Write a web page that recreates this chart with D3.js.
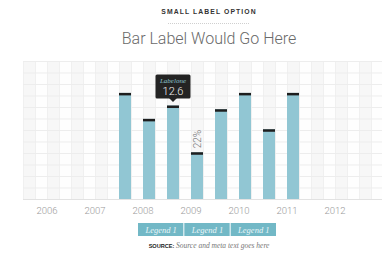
<!DOCTYPE html>
<html>
<head>
<meta charset="utf-8">
<script src="https://cdn.jsdelivr.net/npm/d3@7"></script>
<style>
  html, body { margin: 0; padding: 0; background: #fff; }
  svg { display: block; }
</style>
</head>
<body>
<svg id="chart" width="382" height="256"></svg>
<script>
var years = ['2006', '2007', '2008', '2009', '2010', '2011', '2012'];
var barYears = ['2008', '2008', '2009', '2009', '2010', '2010', '2011', '2011'];
var barHalves = [0, 1, 0, 1, 0, 1, 0, 1];
var barValues = [14.3, 10.8, 12.6, 6.3, 12.1, 14.3, 9.4, 14.3];
var legendLabels = ['Legend 1', 'Legend 1', 'Legend 1'];
var yMax = 18.6;
var gridRows = 12;

var svg = d3.select('#chart');
var W = 382;
var plotLeft = 23, plotTop = 61, plotBottom = 199;
var colW = 12;

var x = d3.scaleBand().domain(years).range([plotLeft, plotLeft + colW * 4 * years.length]);
var y = d3.scaleLinear().domain([0, yMax]).range([plotBottom, plotTop]);

// grid background, stripes and lines
var cols = d3.range(0, Math.ceil((W - plotLeft) / colW) + 1);
var grid = svg.append('g');
grid.selectAll('rect.stripe').data(cols).enter().append('rect')
  .attr('x', function (c) { return plotLeft + c * colW; })
  .attr('y', plotTop)
  .attr('width', colW)
  .attr('height', plotBottom - plotTop)
  .style('fill', function (c) { return c % 2 === 0 ? '#f7f7f7' : '#fefefe'; });

grid.selectAll('line.v').data(cols).enter().append('line')
  .attr('x1', function (c) { return plotLeft + c * colW + 0.5; })
  .attr('x2', function (c) { return plotLeft + c * colW + 0.5; })
  .attr('y1', plotTop).attr('y2', plotBottom)
  .style('stroke', '#f0f0f0');

grid.selectAll('line.h').data(d3.range(0, gridRows + 1)).enter().append('line')
  .attr('x1', plotLeft).attr('x2', W)
  .attr('y1', function (r) { return y(r * yMax / gridRows) + 0.5; })
  .attr('y2', function (r) { return y(r * yMax / gridRows) + 0.5; })
  .style('stroke', function (r) { return r === 0 ? '#e2e2e2' : '#ededed'; });

// bars
var bw = x.bandwidth() / 4;
var barX = function (d, i) { return x(barYears[i]) + barHalves[i] * x.bandwidth() / 2; };

svg.append('g').selectAll('rect').data(barValues).enter().append('rect')
  .attr('x', barX)
  .attr('y', function (d) { return y(d); })
  .attr('width', bw)
  .attr('height', function (d) { return plotBottom - y(d); })
  .style('fill', '#91c6d3');

svg.append('g').selectAll('rect').data(barValues).enter().append('rect')
  .attr('x', barX)
  .attr('y', function (d) { return y(d); })
  .attr('width', bw)
  .attr('height', 2.5)
  .style('fill', '#1e1e1e');

// year axis
var xAxis = svg.append('g').attr('transform', 'translate(0,' + (plotBottom + 15) + ')')
  .call(d3.axisBottom(x).tickSize(0).tickPadding(0));
xAxis.select('.domain').remove();
xAxis.selectAll('text')
  .attr('dy', 0)
  .style('font-family', 'Roboto, "Liberation Sans", sans-serif')
  .style('font-weight', 300)
  .style('font-size', '9.5px')
  .style('fill', '#9a9a9a');

// rotated percentage label on bar 4
var i4 = 3;
svg.append('text')
  .attr('transform', 'translate(' + (barX(null, i4) + bw / 2 + 3.5) + ',' + (y(barValues[i4]) - 4) + ') rotate(-90)')
  .style('font-family', 'Roboto, "Liberation Sans", sans-serif')
  .style('font-weight', 300)
  .style('font-size', '10px')
  .style('fill', '#707070')
  .text('22%');

// tooltip on bar 3
var i3 = 2;
var tx = barX(null, i3) + bw / 2;
var ty = y(barValues[i3]);
var tip = svg.append('g').attr('transform', 'translate(' + tx + ',' + ty + ')');
tip.append('rect')
  .attr('x', -17.5).attr('y', -31).attr('width', 35).attr('height', 24)
  .attr('rx', 1.5)
  .style('fill', '#232323');
tip.append('path')
  .attr('d', 'M-4,-7.5L0,-3.5L4,-7.5Z')
  .style('fill', '#232323');
tip.append('text')
  .attr('x', 0).attr('y', -22.5)
  .attr('text-anchor', 'middle')
  .style('font-family', '"Liberation Serif", serif')
  .style('font-style', 'italic')
  .style('font-size', '7px')
  .style('fill', '#8cc4d1')
  .text('Labelone');
tip.append('text')
  .attr('x', 0).attr('y', -10.5)
  .attr('text-anchor', 'middle')
  .style('font-family', 'Roboto, "Liberation Sans", sans-serif')
  .style('font-weight', 300)
  .style('font-size', '11px')
  .style('fill', '#f2f2f2')
  .text(barValues[i3]);

// titles
svg.append('text')
  .attr('x', 209).attr('y', 13.5)
  .attr('text-anchor', 'middle')
  .style('font-family', '"Liberation Sans", Arial, sans-serif')
  .style('font-weight', 700)
  .style('font-size', '6.8px')
  .style('letter-spacing', '1.1px')
  .style('fill', '#333')
  .text('SMALL LABEL OPTION');

svg.append('line')
  .attr('x1', 168).attr('x2', 250)
  .attr('y1', 23.5).attr('y2', 23.5)
  .style('stroke', '#cfcfcf')
  .style('stroke-dasharray', '1,1');

svg.append('text')
  .attr('x', 209).attr('y', 44)
  .attr('text-anchor', 'middle')
  .style('font-family', 'Roboto, "Liberation Sans", sans-serif')
  .style('font-weight', 300)
  .style('font-size', '16px')
  .style('fill', '#6a6a6a')
  .text('Bar Label Would Go Here');

// legend
var legX = d3.scaleBand().domain(d3.range(legendLabels.length)).range([138, 277]);
var leg = svg.append('g').selectAll('g').data(legendLabels).enter().append('g')
  .attr('transform', function (d, i) { return 'translate(' + legX(i) + ',223)'; });
leg.append('rect')
  .attr('width', legX.bandwidth() - 1)
  .attr('height', 13)
  .style('fill', '#72b8c6');
leg.append('text')
  .attr('x', legX.bandwidth() / 2)
  .attr('y', 9.5)
  .attr('text-anchor', 'middle')
  .style('font-family', '"Liberation Serif", serif')
  .style('font-style', 'italic')
  .style('font-size', '8.5px')
  .style('fill', '#eaf6f8')
  .text(function (d) { return d; });

// source
var src = svg.append('text')
  .attr('x', 209).attr('y', 248)
  .attr('text-anchor', 'middle');
src.append('tspan')
  .style('font-family', '"Liberation Sans", Arial, sans-serif')
  .style('font-weight', 700)
  .style('font-size', '5.6px')
  .style('fill', '#222')
  .text('SOURCE: ');
src.append('tspan')
  .style('font-family', '"Liberation Serif", serif')
  .style('font-style', 'italic')
  .style('font-size', '7.5px')
  .style('fill', '#777')
  .text('Source and meta text goes here');
</script>
</body>
</html>
